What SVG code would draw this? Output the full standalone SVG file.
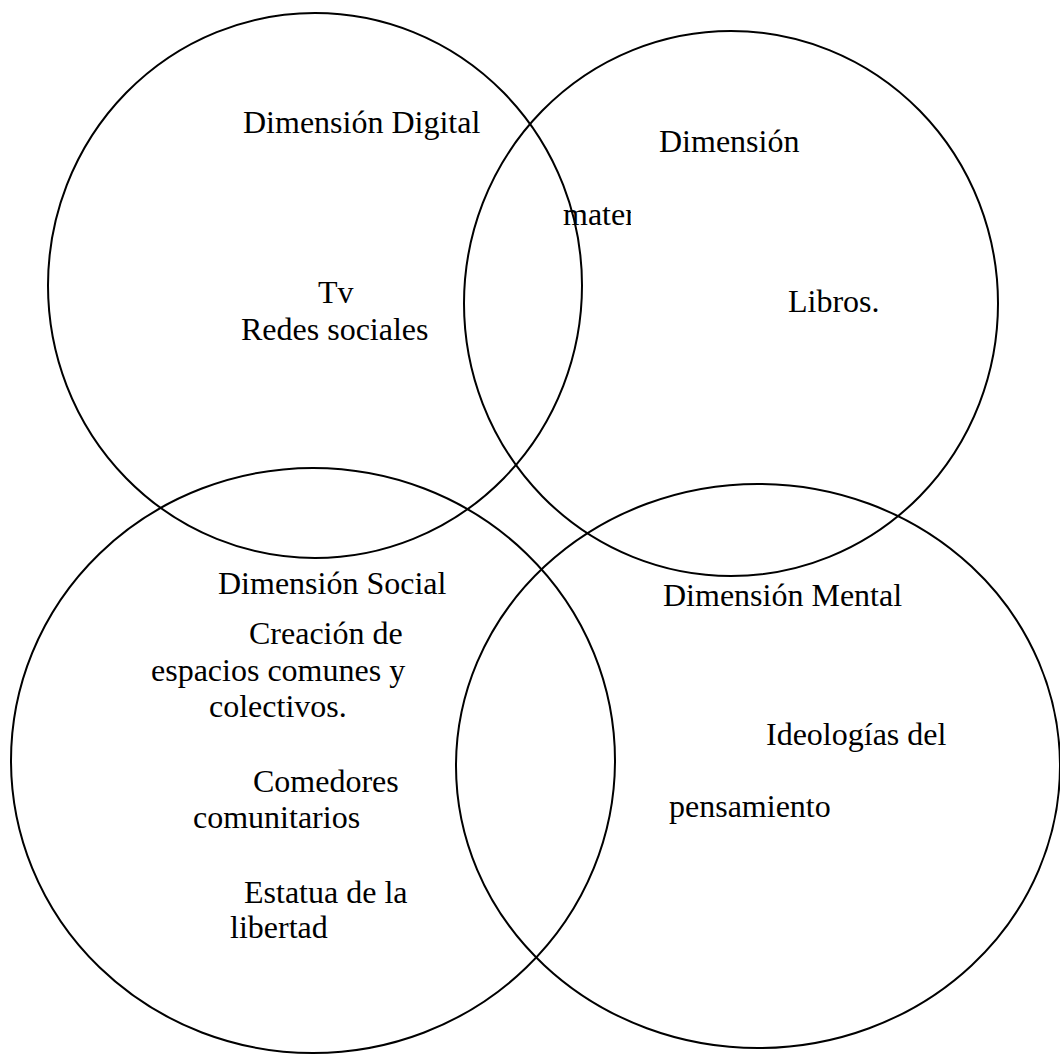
<svg xmlns="http://www.w3.org/2000/svg" width="1060" height="1055" viewBox="0 0 1060 1055">
<style>
  .c { fill: none; stroke: #000; stroke-width: 2; }
  text { font-family: "Liberation Serif", "Times New Roman", serif; font-size: 32px; fill: #000; }
</style>
<defs>
  <clipPath id="clipMater"><rect x="540" y="190" width="91" height="50"/></clipPath>
</defs>
<rect width="1060" height="1055" fill="#fff"/>
<g id="circle-digital">
  <ellipse class="c" cx="315" cy="285.5" rx="267" ry="272.5"/>
  <text x="243" y="133">Dimensión Digital</text>
  <text x="318" y="303">Tv</text>
  <text x="241" y="340">Redes sociales</text>
</g>
<g id="circle-material">
  <ellipse class="c" cx="731" cy="303.5" rx="267" ry="272.5"/>
  <text x="659" y="152">Dimensión</text>
  <text x="563" y="225" clip-path="url(#clipMater)">mater</text>
  <text x="788" y="312">Libros.</text>
</g>
<g id="circle-social">
  <ellipse class="c" cx="313" cy="760.5" rx="302" ry="292.5"/>
  <text x="218" y="594">Dimensión Social</text>
  <text x="249" y="644">Creación de</text>
  <text x="151" y="681">espacios comunes y</text>
  <text x="209" y="717">colectivos.</text>
  <text x="253" y="792">Comedores</text>
  <text x="193" y="828">comunitarios</text>
  <text x="244" y="903">Estatua de la</text>
  <text x="230" y="938">libertad</text>
</g>
<g id="circle-mental">
  <ellipse class="c" cx="758" cy="766" rx="302" ry="282"/>
  <text x="663" y="606">Dimensión Mental</text>
  <text x="766" y="745">Ideologías del</text>
  <text x="669" y="817">pensamiento</text>
</g>
<g id="connectors"></g>
</svg>
